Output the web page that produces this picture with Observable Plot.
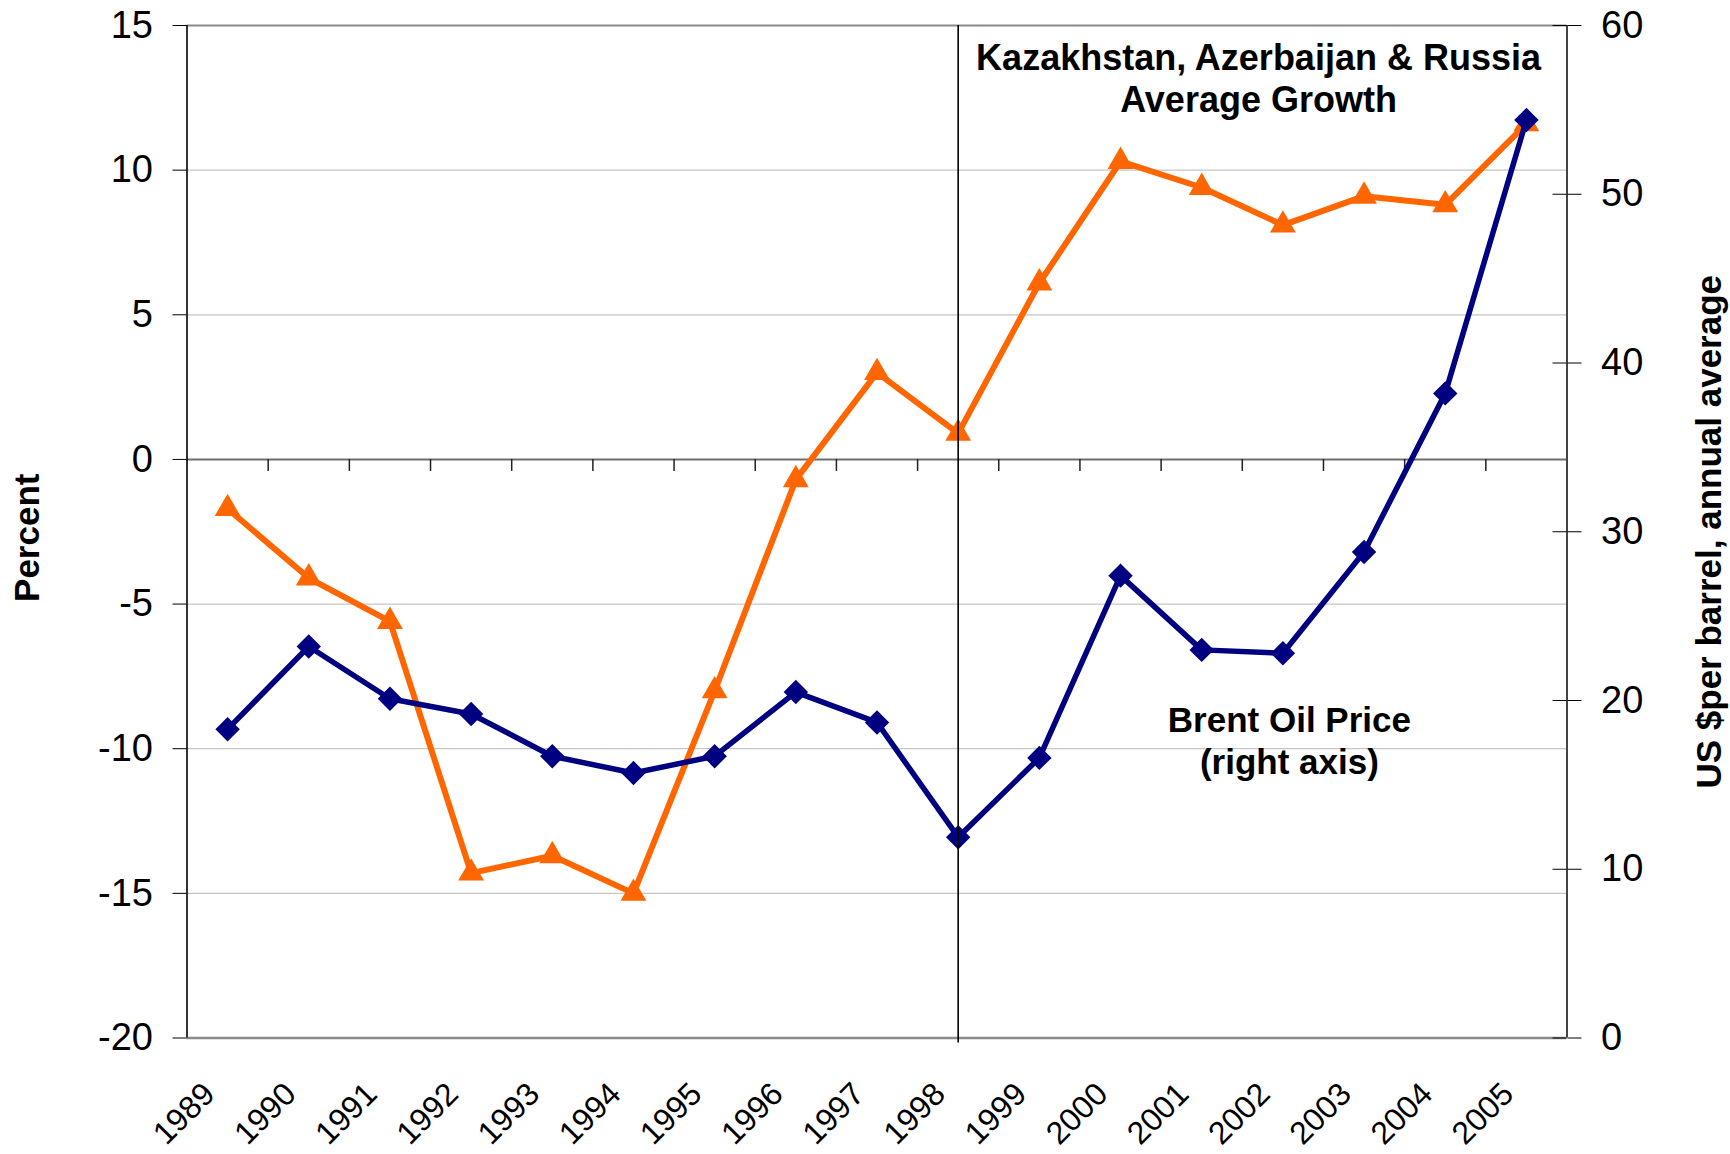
<!DOCTYPE html>
<html><head><meta charset="utf-8">
<script src="https://cdn.jsdelivr.net/npm/d3@7"></script>
<script src="https://cdn.jsdelivr.net/npm/@observablehq/plot@0.6"></script>
<style>html,body{margin:0;padding:0;background:#fff;} svg{display:block}</style>
</head><body><div id="chart"></div>
<script>
// ---- data ----
const years  = [1989,1990,1991,1992,1993,1994,1995,1996,1997,1998,1999,2000,2001,2002,2003,2004,2005];
const growth = [-1.7,-4.1,-5.6,-14.3,-13.7,-15.0,-8.0,-0.7,3.0,0.9,6.1,10.3,9.4,8.1,9.1,8.8,11.6]; // percent, left axis
const brent  = [18.3,23.2,20.1,19.2,16.7,15.7,16.7,20.5,18.7,11.9,16.6,27.4,23.0,22.8,28.8,38.2,54.4]; // US$/barrel, right axis
const leftTicks  = [-20,-15,-10,-5,0,5,10,15];
const rightTicks = [0,10,20,30,40,50,60];
const leftTitle  = "Percent";
const rightTitle = "US $per barrel, annual average";
const growthLabel = "Kazakhstan, Azerbaijan & Russia\nAverage Growth";
const brentLabel  = "Brent Oil Price\n(right axis)";
const markerYear = 1998;

// right axis [0,60] shares the frame with left axis [-20,15]
const toLeft = v => -20 + v * 35 / 60;
const fromLeft = v => Math.round((v + 20) * 60 / 35);

const table = years.map((year, i) => ({year, growth: growth[i], brent: brent[i]}));
const bounds = years.slice(0, -1).map(y => y + 0.5);

const W = 1730, H = 1154;
const FONT = "'Liberation Sans', Arial, Helvetica, sans-serif";

const chart = Plot.plot({
  width: W, height: H,
  marginLeft: 186.5, marginRight: W - 1566.5, marginTop: 25, marginBottom: H - 1037.5,
  style: {fontFamily: FONT, background: "#fff", color: "#000", overflow: "visible"},
  x: {domain: [1988.5, 2005.5], axis: null},
  y: {domain: [-20, 15], axis: null},
  marks: [
    Plot.gridY(leftTicks.filter(t => t > -20 && t < 15 && t !== 0), {stroke: "#c6c6c6", strokeOpacity: 1, strokeWidth: 1.2}),
    Plot.ruleY([15], {stroke: "#8a8a8a", strokeWidth: 2}),
    Plot.ruleY([-20], {stroke: "#8a8a8a", strokeWidth: 2.5}),
    Plot.ruleY([0], {stroke: "#6e6e6e", strokeWidth: 2}),
    Plot.ruleX(bounds, {y1: 0, y2: 0, insetBottom: -12, stroke: "#222", strokeWidth: 1.5}),
    Plot.ruleX([2005.5], {stroke: "#444", strokeWidth: 2}),
    Plot.ruleX([1988.5], {stroke: "#000", strokeWidth: 1.6}),
    Plot.axisY(leftTicks, {anchor: "left", tickSize: 14, tickPadding: 20, fontSize: 38, tickFormat: d => String(d), label: null, stroke: "#000"}),
    Plot.axisY(rightTicks.map(toLeft), {anchor: "right", tickSize: 14, tickPadding: 20, fontSize: 38, tickFormat: v => String(fromLeft(v)), label: null, stroke: "#000"}),
    Plot.ruleY(rightTicks, {y: toLeft, x1: 2005.5, x2: 2005.5, insetLeft: -14, stroke: "#000", strokeWidth: 1}),
    Plot.text(years, {x: d => d, y: -20, text: d => String(d), rotate: -45, textAnchor: "end", lineAnchor: "bottom", dx: -11, dy: 58, fontSize: 32}),
    Plot.text([leftTitle], {frameAnchor: "left", textAnchor: "middle", dx: 27 - 186.5, dy: 6, rotate: -90, fontSize: 35, fontWeight: "bold"}),
    Plot.text([rightTitle], {frameAnchor: "right", textAnchor: "middle", dx: 1709 - 1566.5, rotate: -90, fontSize: 35, fontWeight: "bold"}),
    Plot.line(table, {x: "year", y: "growth", stroke: "#FF6600", strokeWidth: 6, strokeLinejoin: "miter"}),
    Plot.dot(table, {x: "year", y: "growth", symbol: "triangle", r: 9.6, fill: "#FF6600", stroke: null}),
    Plot.line(table, {x: "year", y: d => toLeft(d.brent), stroke: "#000080", strokeWidth: 5.5, strokeLinejoin: "miter"}),
    Plot.dot(table, {x: "year", y: d => toLeft(d.brent), symbol: "diamond2", r: 11, fill: "#000080", stroke: null}),
    Plot.ruleX([markerYear], {stroke: "#000", strokeWidth: 1.6, insetBottom: -5}),
    Plot.text([growthLabel], {x: 2001.7, y: 14.53, lineAnchor: "top", lineHeight: 1.19, fontSize: 36, fontWeight: "bold"}),
    Plot.text([brentLabel], {x: 2002.08, y: -8.38, lineAnchor: "top", lineHeight: 1.2, fontSize: 35, fontWeight: "bold"})
  ]
});
document.getElementById("chart").appendChild(chart);
</script>
</body></html>
